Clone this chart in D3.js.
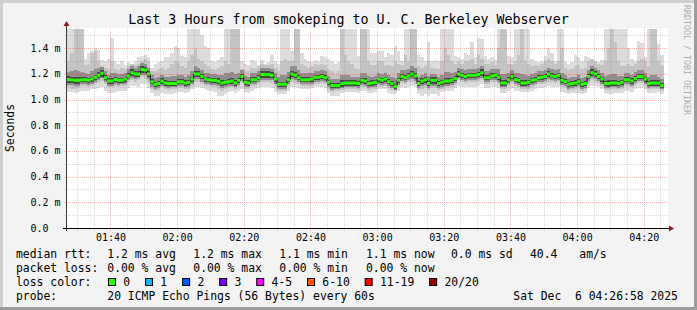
<!DOCTYPE html>
<html>
<head>
<meta charset="utf-8">
<script src="https://cdn.jsdelivr.net/npm/d3@7"></script>
<style>
  body { margin: 0; background: #f3f3f3; overflow: hidden; }
  text { font-family: "DejaVu Sans Mono", monospace; white-space: pre; }
</style>
</head>
<body>
<div id="chart"></div>
<script>
// ---- data (milliseconds, one value per 60s ping round) ----
var medianRtt = [1.157,1.155,1.15,1.15,1.155,1.155,1.15,1.16,1.175,1.19,
  1.205,1.17,1.145,1.145,1.157,1.15,1.15,1.16,1.185,1.21,
  1.20,1.20,1.235,1.23,1.20,1.14,1.12,1.125,1.145,1.13,
  1.125,1.125,1.125,1.14,1.14,1.13,1.135,1.16,1.20,1.20,
  1.18,1.16,1.155,1.15,1.15,1.144,1.13,1.135,1.14,1.145,
  1.13,1.15,1.18,1.135,1.13,1.155,1.155,1.17,1.195,1.195,
  1.195,1.19,1.16,1.12,1.12,1.12,1.155,1.20,1.19,1.17,
  1.155,1.155,1.155,1.16,1.175,1.175,1.18,1.17,1.135,1.11,
  1.11,1.11,1.125,1.13,1.13,1.13,1.13,1.125,1.15,1.145,
  1.125,1.13,1.135,1.16,1.15,1.16,1.14,1.125,1.105,1.15,
  1.18,1.17,1.185,1.20,1.185,1.125,1.145,1.155,1.125,1.15,
  1.15,1.125,1.135,1.145,1.145,1.15,1.165,1.20,1.19,1.18,
  1.19,1.19,1.19,1.195,1.21,1.17,1.17,1.185,1.19,1.175,
  1.13,1.13,1.155,1.18,1.155,1.15,1.13,1.13,1.135,1.15,
  1.155,1.17,1.175,1.18,1.20,1.185,1.18,1.19,1.15,1.14,
  1.12,1.125,1.13,1.14,1.12,1.125,1.18,1.21,1.20,1.18,
  1.16,1.125,1.125,1.13,1.13,1.125,1.135,1.155,1.155,1.145,
  1.165,1.18,1.18,1.16,1.125,1.13,1.13,1.13,1.11];

// slowest ping of each round (top of the light smoke)
var pingMax = [1.55,1.55,1.55,1.55,1.55,1.32,1.36,1.38,1.40,1.39,
  1.31,1.30,1.32,1.48,1.30,1.28,1.30,1.27,1.29,1.28,
  1.30,1.33,1.34,1.35,1.33,1.25,1.28,1.29,1.30,1.33,
  1.33,1.36,1.42,1.40,1.34,1.33,1.55,1.55,1.55,1.55,
  1.50,1.42,1.40,1.30,1.29,1.31,1.33,1.55,1.55,1.55,
  1.55,1.55,1.30,1.28,1.27,1.31,1.30,1.27,1.31,1.28,
  1.29,1.35,1.30,1.28,1.55,1.55,1.55,1.38,1.55,1.55,
  1.36,1.32,1.30,1.29,1.31,1.30,1.34,1.33,1.32,1.30,
  1.28,1.29,1.55,1.55,1.55,1.55,1.55,1.34,1.55,1.55,
  1.55,1.36,1.36,1.38,1.38,1.33,1.36,1.35,1.42,1.38,
  1.30,1.55,1.55,1.55,1.55,1.35,1.33,1.30,1.45,1.30,
  1.31,1.30,1.55,1.55,1.55,1.55,1.34,1.33,1.32,1.36,
  1.35,1.45,1.33,1.48,1.47,1.34,1.32,1.33,1.31,1.55,
  1.55,1.55,1.34,1.33,1.55,1.55,1.55,1.55,1.55,1.32,
  1.30,1.29,1.30,1.34,1.40,1.36,1.30,1.55,1.55,1.30,
  1.28,1.29,1.35,1.33,1.30,1.34,1.33,1.32,1.30,1.29,
  1.31,1.55,1.55,1.55,1.55,1.55,1.55,1.55,1.40,1.32,
  1.30,1.46,1.44,1.33,1.55,1.55,1.55,1.43,1.35];

// upper edge of the mid-grey smoke
var pingHi = [1.30,1.36,1.55,1.55,1.55,1.27,1.28,1.36,1.38,1.30,
  1.26,1.25,1.24,1.30,1.24,1.23,1.25,1.24,1.26,1.28,
  1.27,1.28,1.30,1.32,1.30,1.22,1.22,1.24,1.25,1.23,
  1.25,1.28,1.30,1.29,1.26,1.25,1.30,1.35,1.40,1.32,
  1.30,1.28,1.26,1.24,1.23,1.25,1.26,1.30,1.28,1.55,
  1.55,1.55,1.24,1.23,1.22,1.25,1.24,1.26,1.28,1.27,
  1.27,1.28,1.25,1.22,1.30,1.32,1.30,1.30,1.55,1.55,
  1.28,1.26,1.25,1.26,1.28,1.27,1.28,1.27,1.24,1.22,
  1.21,1.22,1.55,1.35,1.30,1.28,1.25,1.24,1.55,1.55,
  1.30,1.27,1.27,1.30,1.30,1.26,1.27,1.26,1.30,1.28,
  1.27,1.35,1.30,1.55,1.55,1.26,1.25,1.26,1.30,1.25,
  1.25,1.24,1.30,1.40,1.35,1.30,1.28,1.30,1.28,1.30,
  1.30,1.32,1.28,1.35,1.32,1.28,1.28,1.29,1.27,1.40,
  1.55,1.55,1.28,1.28,1.30,1.35,1.55,1.30,1.28,1.26,
  1.27,1.26,1.28,1.30,1.32,1.30,1.28,1.30,1.40,1.25,
  1.23,1.24,1.26,1.27,1.24,1.25,1.30,1.32,1.30,1.28,
  1.27,1.30,1.40,1.55,1.45,1.30,1.26,1.26,1.28,1.26,
  1.28,1.30,1.32,1.30,1.26,1.55,1.55,1.30,1.26];

// fastest ping of each round (bottom of the light smoke)
var pingMin = [1.06,1.06,1.05,1.06,1.07,1.07,1.07,1.08,1.08,1.09,
  1.10,1.07,1.05,1.05,1.06,1.07,1.07,1.07,1.09,1.11,
  1.11,1.10,1.12,1.12,1.09,1.05,1.03,1.03,1.05,1.04,
  1.04,1.04,1.05,1.06,1.06,1.05,1.06,1.08,1.10,1.10,
  1.09,1.08,1.07,1.07,1.06,1.03,1.03,1.04,1.06,1.07,
  1.05,1.07,1.08,1.06,1.05,1.07,1.08,1.09,1.10,1.10,
  1.10,1.09,1.06,1.04,1.04,1.04,1.07,1.10,1.10,1.09,
  1.08,1.08,1.08,1.09,1.10,1.10,1.10,1.09,1.05,1.03,
  1.03,1.03,1.05,1.06,1.06,1.06,1.06,1.05,1.07,1.07,
  1.05,1.05,1.06,1.08,1.08,1.08,1.05,1.04,1.04,1.07,
  1.10,1.09,1.10,1.11,1.10,1.04,1.03,1.04,1.03,1.04,
  1.04,1.03,1.06,1.07,1.07,1.07,1.09,1.11,1.10,1.10,
  1.10,1.10,1.10,1.11,1.12,1.09,1.09,1.10,1.10,1.09,
  1.05,1.05,1.07,1.09,1.07,1.07,1.06,1.06,1.06,1.07,
  1.08,1.09,1.09,1.10,1.11,1.10,1.10,1.10,1.06,1.05,
  1.04,1.05,1.05,1.05,1.04,1.05,1.09,1.11,1.11,1.10,
  1.08,1.05,1.04,1.04,1.05,1.05,1.05,1.07,1.07,1.06,
  1.08,1.09,1.09,1.08,1.05,1.05,1.05,1.06,1.04];

// distance of the mid-grey lower edge below the median
var loSpread = [0.06,0.07,0.07,0.06,0.05,0.05,0.05,0.05,0.05,0.06,
  0.06,0.05,0.05,0.05,0.05,0.05,0.04,0.05,0.05,0.06,
  0.06,0.05,0.06,0.07,0.07,0.06,0.05,0.05,0.05,0.05,
  0.05,0.04,0.04,0.05,0.05,0.05,0.05,0.05,0.06,0.06,
  0.06,0.05,0.05,0.05,0.05,0.06,0.06,0.05,0.05,0.05,
  0.05,0.05,0.05,0.05,0.05,0.05,0.05,0.05,0.06,0.06,
  0.06,0.06,0.06,0.05,0.05,0.05,0.05,0.06,0.06,0.05,
  0.05,0.05,0.05,0.05,0.05,0.05,0.05,0.05,0.05,0.05,
  0.04,0.04,0.05,0.05,0.05,0.05,0.05,0.05,0.05,0.05,
  0.05,0.05,0.05,0.05,0.05,0.05,0.05,0.05,0.04,0.05,
  0.05,0.05,0.05,0.06,0.06,0.05,0.06,0.06,0.05,0.06,
  0.06,0.05,0.05,0.05,0.05,0.05,0.05,0.05,0.05,0.05,
  0.05,0.05,0.05,0.05,0.06,0.05,0.05,0.05,0.05,0.05,
  0.05,0.05,0.05,0.05,0.05,0.05,0.05,0.05,0.05,0.05,
  0.05,0.05,0.05,0.05,0.06,0.05,0.05,0.05,0.05,0.05,
  0.05,0.05,0.05,0.05,0.05,0.05,0.05,0.06,0.06,0.05,
  0.05,0.05,0.05,0.05,0.05,0.05,0.05,0.05,0.05,0.05,
  0.05,0.05,0.05,0.05,0.05,0.05,0.05,0.05,0.04];

// darker smoke: extent above / below the median
var midUp = [0.06,0.07,0.08,0.07,0.06,0.05,0.05,0.06,0.06,0.06,
  0.05,0.05,0.05,0.06,0.05,0.05,0.05,0.05,0.05,0.05,
  0.05,0.06,0.05,0.05,0.05,0.05,0.05,0.05,0.05,0.05,
  0.05,0.06,0.06,0.05,0.05,0.05,0.06,0.06,0.06,0.05,
  0.05,0.05,0.05,0.05,0.05,0.05,0.06,0.07,0.07,0.07,
  0.07,0.06,0.05,0.05,0.05,0.05,0.05,0.05,0.05,0.05,
  0.05,0.05,0.05,0.06,0.07,0.07,0.06,0.06,0.07,0.06,
  0.05,0.05,0.05,0.05,0.05,0.05,0.05,0.05,0.05,0.05,
  0.05,0.05,0.07,0.06,0.06,0.05,0.05,0.05,0.06,0.06,
  0.06,0.05,0.05,0.05,0.05,0.05,0.05,0.05,0.06,0.06,
  0.05,0.06,0.05,0.06,0.06,0.05,0.05,0.05,0.06,0.05,
  0.05,0.05,0.06,0.07,0.07,0.06,0.05,0.05,0.05,0.05,
  0.05,0.05,0.05,0.05,0.05,0.05,0.05,0.05,0.05,0.06,
  0.07,0.07,0.05,0.05,0.05,0.06,0.07,0.06,0.05,0.05,
  0.05,0.05,0.05,0.05,0.05,0.05,0.05,0.05,0.06,0.05,
  0.05,0.05,0.05,0.05,0.05,0.05,0.05,0.05,0.05,0.05,
  0.05,0.06,0.07,0.07,0.07,0.06,0.05,0.05,0.05,0.05,
  0.05,0.05,0.05,0.05,0.05,0.06,0.06,0.05,0.05];

var midDown = [0.04,0.04,0.04,0.04,0.035,0.035,0.035,0.035,0.035,0.04,
  0.04,0.035,0.035,0.035,0.035,0.035,0.03,0.035,0.035,0.04,
  0.04,0.035,0.04,0.04,0.04,0.04,0.035,0.035,0.035,0.035,
  0.035,0.03,0.03,0.035,0.035,0.035,0.035,0.035,0.04,0.04,
  0.04,0.035,0.035,0.035,0.035,0.04,0.04,0.035,0.035,0.035,
  0.035,0.035,0.035,0.035,0.035,0.035,0.035,0.035,0.04,0.04,
  0.04,0.04,0.04,0.035,0.035,0.035,0.035,0.04,0.04,0.035,
  0.035,0.035,0.035,0.035,0.035,0.035,0.035,0.035,0.035,0.035,
  0.03,0.03,0.035,0.035,0.035,0.035,0.035,0.035,0.035,0.035,
  0.035,0.035,0.035,0.035,0.035,0.035,0.035,0.035,0.03,0.035,
  0.035,0.035,0.035,0.04,0.04,0.035,0.04,0.04,0.035,0.04,
  0.04,0.035,0.035,0.035,0.035,0.035,0.035,0.035,0.035,0.035,
  0.035,0.035,0.035,0.035,0.04,0.035,0.035,0.035,0.035,0.035,
  0.035,0.035,0.035,0.035,0.035,0.035,0.035,0.035,0.035,0.035,
  0.035,0.035,0.035,0.035,0.04,0.035,0.035,0.035,0.035,0.035,
  0.035,0.035,0.035,0.035,0.035,0.035,0.035,0.04,0.04,0.035,
  0.035,0.035,0.035,0.035,0.035,0.035,0.035,0.035,0.035,0.035,
  0.035,0.035,0.035,0.035,0.035,0.035,0.035,0.035,0.03];

// darkest smoke right round the median
var coreSpread = [0.025,0.025,0.03,0.025,0.02,0.02,0.02,0.02,0.02,0.025,
  0.025,0.02,0.02,0.02,0.02,0.02,0.02,0.02,0.02,0.025,
  0.025,0.02,0.025,0.025,0.025,0.02,0.02,0.02,0.02,0.02,
  0.02,0.02,0.02,0.02,0.02,0.02,0.02,0.02,0.025,0.025,
  0.02,0.02,0.02,0.02,0.02,0.025,0.025,0.02,0.02,0.02,
  0.02,0.02,0.02,0.02,0.02,0.02,0.02,0.02,0.025,0.025,
  0.025,0.025,0.02,0.02,0.02,0.02,0.02,0.025,0.025,0.02,
  0.02,0.02,0.02,0.02,0.02,0.02,0.02,0.02,0.02,0.02,
  0.02,0.02,0.025,0.02,0.02,0.02,0.02,0.02,0.02,0.02,
  0.02,0.02,0.02,0.02,0.02,0.02,0.02,0.02,0.02,0.02,
  0.02,0.02,0.02,0.025,0.025,0.02,0.025,0.025,0.02,0.025,
  0.025,0.02,0.02,0.025,0.025,0.02,0.02,0.02,0.02,0.02,
  0.02,0.02,0.02,0.02,0.025,0.02,0.02,0.02,0.02,0.02,
  0.025,0.025,0.02,0.02,0.02,0.02,0.025,0.02,0.02,0.02,
  0.02,0.02,0.02,0.02,0.02,0.02,0.02,0.02,0.02,0.02,
  0.02,0.02,0.02,0.02,0.02,0.02,0.02,0.025,0.025,0.02,
  0.02,0.02,0.025,0.025,0.025,0.02,0.02,0.02,0.02,0.02,
  0.02,0.02,0.02,0.02,0.02,0.02,0.02,0.02,0.02];

var yTickValues = [0, 0.2, 0.4, 0.6, 0.8, 1.0, 1.2, 1.4];
var yTickLabels = ["0.0", "0.2 m", "0.4 m", "0.6 m", "0.8 m", "1.0 m", "1.2 m", "1.4 m"];
var yMinorValues = [0.1, 0.3, 0.5, 0.7, 0.9, 1.1, 1.3, 1.5];
var xTickLabels = ["01:40", "02:00", "02:20", "02:40", "03:00", "03:20", "03:40", "04:00", "04:20"];

var lossLabels = ["0", "1", "2", "3", "4-5", "6-10", "11-19", "20/20"];
var lossColors = ["#26ff00", "#00b8ff", "#0059ff", "#7e00ff", "#ff00ff", "#ff5500", "#ff0000", "#a10000"];
var rttStats = ["1.2 ms avg", "1.2 ms max", "1.1 ms min", "1.1 ms now", "0.0 ms sd", "40.4", "am/s"];
var lossStats = ["0.00 % avg", "0.00 % max", "0.00 % min", "0.00 % now"];

var titleText = "Last 3 Hours from smokeping to U. C. Berkeley Webserver";
var probeText = "20 ICMP Echo Pings (56 Bytes) every 60s";
var stampText = "Sat Dec  6 04:26:58 2025";

// ---- layout ----
var width = 697, height = 310;
var plot = {left: 67, right: 667, top: 28, bottom: 228};
var yMax = 1.558;
var tStart = Date.UTC(2025, 11, 6, 1, 26, 58),
    tEnd = Date.UTC(2025, 11, 6, 4, 26, 58),
    stepMs = 60 * 1000;
var statCols = [107.3, 193.3, 279.3, 366, 451, 530, 579.3];
var charW = 6.86;

var x = d3.scaleUtc().domain([tStart, tEnd]).range([plot.left, plot.right]);
var y = d3.scaleLinear().domain([0, yMax]).range([plot.bottom, plot.top]);

var svg = d3.select("#chart").append("svg")
    .attr("width", width)
    .attr("height", height);

// frame with rrdtool style shading
svg.append("rect").attr("width", width).attr("height", height).attr("fill", "#f3f3f3");
svg.append("path").attr("d", "M0,0H697V3H3V310H0Z").attr("fill", "#cfcfcf");
svg.append("path").attr("d", "M697,0V310H0V307H694V0Z").attr("fill", "#9c9c9c");

svg.append("rect")
    .attr("x", plot.left).attr("y", plot.top)
    .attr("width", plot.right - plot.left + 1).attr("height", plot.bottom - plot.top)
    .attr("fill", "#ffffff");

svg.append("clipPath").attr("id", "plotclip").append("rect")
    .attr("x", plot.left).attr("y", plot.top)
    .attr("width", plot.right - plot.left).attr("height", plot.bottom - plot.top);

// ---- smoke ----
var n = medianRtt.length;
var idx = d3.range(n + 1);   // one extra index closes the last step
function tAt(i) { return tStart + i * stepMs; }
function k(i) { return Math.min(i, n - 1); }

var smokeLayers = [
    {color: "#dcdcdc", lo: function(i) { return pingMin[i]; }, hi: function(i) { return pingMax[i]; }},
    {color: "#c4c4c4", lo: function(i) { return medianRtt[i] - loSpread[i]; }, hi: function(i) { return pingHi[i]; }},
    {color: "#8f8f8f", lo: function(i) { return medianRtt[i] - midDown[i]; }, hi: function(i) { return medianRtt[i] + midUp[i]; }},
    {color: "#474747", lo: function(i) { return medianRtt[i] - coreSpread[i]; }, hi: function(i) { return medianRtt[i] + coreSpread[i]; }}
];

var smoke = svg.append("g").attr("clip-path", "url(#plotclip)");
smokeLayers.forEach(function(l) {
    var area = d3.area()
        .curve(d3.curveStepAfter)
        .x(function(i) { return x(tAt(i)); })
        .y0(function(i) { return y(l.lo(k(i))); })
        .y1(function(i) { return y(l.hi(k(i))); });
    smoke.append("path")
        .attr("d", area(idx))
        .attr("fill", l.color)
        .attr("shape-rendering", "crispEdges");
});

// ---- grid (drawn over the smoke, like rrdtool) ----
var grid = svg.append("g").attr("stroke-dasharray", "1,1").attr("stroke-width", 1)
    .attr("shape-rendering", "crispEdges");
var minorGrid = "rgba(128,128,128,0.3)", majorGrid = "rgba(225,50,50,0.35)";

yMinorValues.forEach(function(v) {
    var yy = Math.round(y(v)) + 0.5;
    grid.append("line").attr("x1", plot.left - 3).attr("x2", plot.right)
        .attr("y1", yy).attr("y2", yy).attr("stroke", minorGrid);
});
yTickValues.slice(1).forEach(function(v) {
    var yy = Math.round(y(v)) + 0.5;
    grid.append("line").attr("x1", plot.left - 3).attr("x2", plot.right)
        .attr("y1", yy).attr("y2", yy).attr("stroke", majorGrid);
});

function labelTime(s) {
    var p = s.split(":");
    return Date.UTC(2025, 11, 6, +p[0], +p[1]);
}
var majorTimes = xTickLabels.map(labelTime);
var minorTimes = x.ticks(d3.utcMinute.every(5)).filter(function(t) {
    return majorTimes.indexOf(+t) < 0;
});
minorTimes.forEach(function(t) {
    var xx = Math.round(x(t)) + 0.5;
    grid.append("line").attr("x1", xx).attr("x2", xx)
        .attr("y1", plot.top).attr("y2", plot.bottom + 3).attr("stroke", minorGrid);
});
majorTimes.forEach(function(t) {
    var xx = Math.round(x(t)) + 0.5;
    grid.append("line").attr("x1", xx).attr("x2", xx)
        .attr("y1", plot.top).attr("y2", plot.bottom + 3).attr("stroke", majorGrid);
});

// ---- median line: dark steps, green (0 loss) segments ----
var med = svg.append("g").attr("clip-path", "url(#plotclip)");
med.append("path")
    .attr("d", d3.line().curve(d3.curveStepAfter)
        .x(function(i) { return x(tAt(i)); })
        .y(function(i) { return y(medianRtt[k(i)]); })(idx))
    .attr("fill", "none")
    .attr("stroke", "#111")
    .attr("stroke-width", 1);

var segs = "";
medianRtt.forEach(function(v, i) {
    segs += "M" + x(tAt(i)) + "," + y(v) + "H" + x(tAt(i + 1));
});
med.append("path")
    .attr("d", segs)
    .attr("fill", "none")
    .attr("stroke", lossColors[0])
    .attr("stroke-width", 3)
    .attr("stroke-linecap", "butt");

// ---- axes ----
svg.append("line")
    .attr("x1", plot.left - 0.5).attr("x2", plot.left - 0.5)
    .attr("y1", plot.bottom + 3).attr("y2", plot.top - 4)
    .attr("stroke", "#3a3a3a");
svg.append("line")
    .attr("x1", plot.left - 4).attr("x2", plot.right + 2)
    .attr("y1", plot.bottom + 0.5).attr("y2", plot.bottom + 0.5)
    .attr("stroke", "#000");
svg.append("path")
    .attr("d", "M" + (plot.left - 0.5) + "," + (plot.top - 7) + "l-3,5h6z")
    .attr("fill", "#8e1c1c");
svg.append("path")
    .attr("d", "M" + (plot.right + 7) + "," + (plot.bottom + 0.5) + "l-5,-3v6z")
    .attr("fill", "#8e1c1c");

// y labels
svg.append("g").selectAll("text")
    .data(yTickValues)
    .enter().append("text")
    .attr("x", 30.5)
    .attr("y", function(v) { return y(v) + 3.5; })
    .attr("font-size", "10px")
    .attr("fill", "#000")
    .text(function(v, i) { return yTickLabels[i]; });

// x labels
svg.append("g").selectAll("text")
    .data(majorTimes)
    .enter().append("text")
    .attr("x", function(t) { return x(t) + 0.5; })
    .attr("y", 241)
    .attr("text-anchor", "middle")
    .attr("font-size", "10px")
    .attr("fill", "#000")
    .text(function(t, i) { return xTickLabels[i]; });

// title and side texts
svg.append("text")
    .attr("x", width / 2).attr("y", 23.5)
    .attr("text-anchor", "middle")
    .attr("font-size", "13.3px")
    .text(titleText);

svg.append("text")
    .attr("transform", "translate(10,128) rotate(-90)")
    .attr("text-anchor", "middle")
    .attr("dy", "0.35em")
    .attr("font-size", "11.4px")
    .text("Seconds");

svg.append("text")
    .attr("transform", "translate(687,5) rotate(90)")
    .attr("dy", "0.35em")
    .attr("font-size", "8.3px")
    .attr("fill", "#adadad")
    .text("RRDTOOL / TOBI OETIKER");

// ---- legend ----
var legend = svg.append("g").attr("font-size", "11.4px").attr("fill", "#000");

function legendLine(yy, head, items) {
    legend.append("text").attr("x", 16).attr("y", yy).text(head);
    items.forEach(function(s, i) {
        legend.append("text").attr("x", statCols[i]).attr("y", yy).text(s);
    });
}
legendLine(258, "median rtt:", rttStats);
legendLine(272, "packet loss:", lossStats);
legendLine(286, "loss color:", []);
legendLine(300, "probe:", []);
legend.append("text").attr("x", statCols[0]).attr("y", 300).text(probeText);
legend.append("text").attr("x", 513.3).attr("y", 300).text(stampText);

var bx = 108.5;
lossLabels.forEach(function(lbl, i) {
    legend.append("rect")
        .attr("x", bx).attr("y", 278.5)
        .attr("width", 7).attr("height", 7)
        .attr("fill", lossColors[i])
        .attr("stroke", "#000");
    legend.append("text").attr("x", bx + 14.8).attr("y", 286).text(lbl);
    bx = bx + 14.8 + lbl.length * charW + 15.4;
});
</script>
</body>
</html>
